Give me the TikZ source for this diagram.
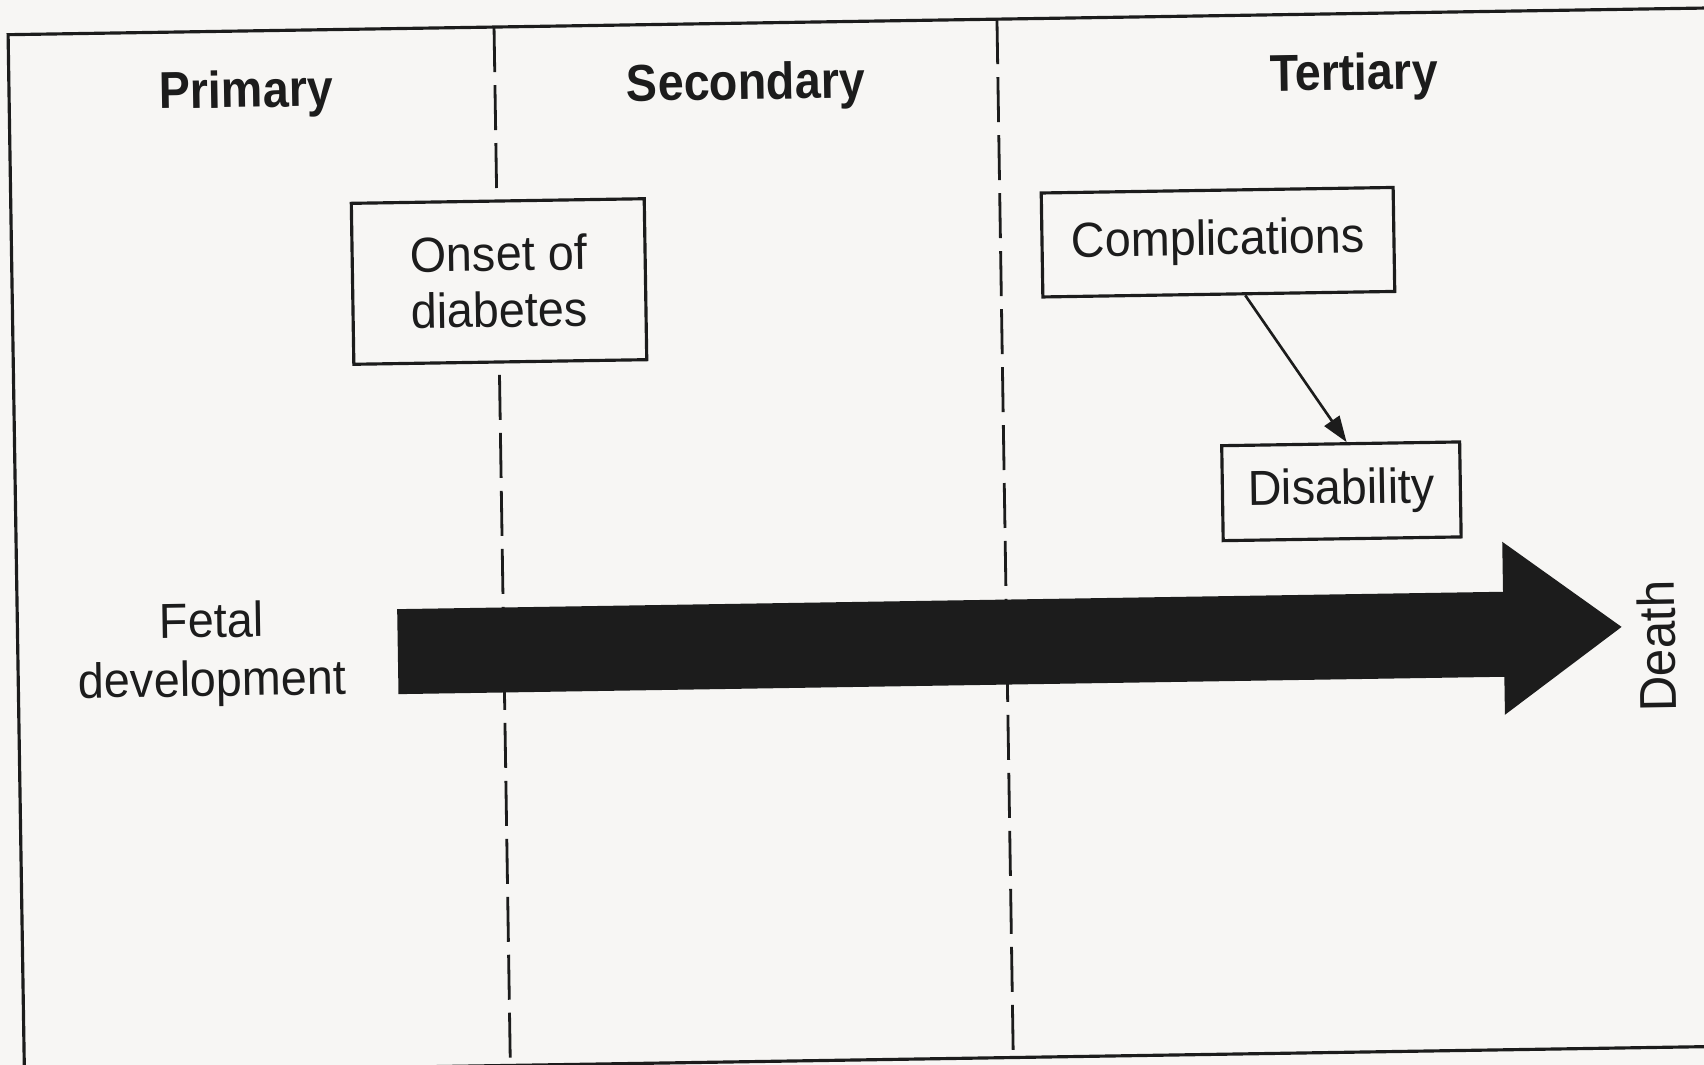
\documentclass[tikz,border=0pt]{standalone}
\usepackage{fontspec}
\setmainfont{Liberation Sans}[FakeStretch=0.95]
\newfontfamily\headfont{Liberation Sans}[FakeStretch=0.9]
\usetikzlibrary{arrows.meta}
\definecolor{paper}{RGB}{247,246,244}
\definecolor{ink}{RGB}{28,28,28}
\begin{document}
\begin{tikzpicture}[x=0.02cm,y=0.02cm,
  stagehead/.style={font=\headfont\fontsize{29.5}{31}\selectfont\bfseries, anchor=base, text=ink, inner sep=0pt},
  plaintext/.style={font=\fontsize{28}{33.5}\selectfont, text=ink, inner sep=0pt},
  stagebox/.style={draw=ink, line width=1.8pt, fill=paper, inner sep=0pt, align=center,
    font=\fontsize{28}{32}\selectfont, text=ink},
  divider/.style={draw=ink, line width=1.6pt, dash pattern=on 0.9cm off 0.26cm},
  outerframe/.style={draw=ink, line width=1.8pt},
  linkarrow/.style={draw=ink, line width=1.5pt, -{Triangle[length=0.52cm,width=0.36cm]}}
]
\useasboundingbox (0,0) rectangle (1704,1065);
\fill[paper] (0,0) rectangle (1704,1065);
\clip (0,0) rectangle (1704,1065);
\begin{scope}[rotate around={0.9:(852,533)}, transform shape]
  \draw[outerframe] (16,5) rectangle (1760,1043.5);
  \draw[divider] (502,1043.5) -- (502,5);
  \draw[divider] (1005,1043.5) -- (1005,5);
  \node[stagehead] (primary) at (253,967) {Primary};
  \node[stagehead] (secondary) at (753,967) {Secondary};
  \node[stagehead] (tertiary) at (1361,967) {Tertiary};
  \node[stagebox, minimum width=5.86cm, minimum height=3.22cm] (onset) at (503,789) {Onset of\\diabetes};
  \node[stagebox, minimum width=7.04cm, minimum height=2.08cm] (compl) at (1222.5,817) {Complications};
  \node[stagebox, minimum width=4.76cm, minimum height=1.9cm] (disab) at (1342,566) {Disability};
  \draw[linkarrow] ([xshift=0.53cm]compl.south) -- ([xshift=0.12cm]disab.north);
  \fill[ink] (396,463) -- (1502,463) -- (1502,513) -- (1620,426) -- (1502,340) -- (1502,378) -- (396,378) -- cycle;
  \node[plaintext, align=center] (fetal) at (210,421) {Fetal\\development};
  \node[plaintext, rotate=90, font=\fontsize{29.5}{31}\selectfont] (death) at (1655,406) {Death};
\end{scope}
\end{tikzpicture}
\end{document}
